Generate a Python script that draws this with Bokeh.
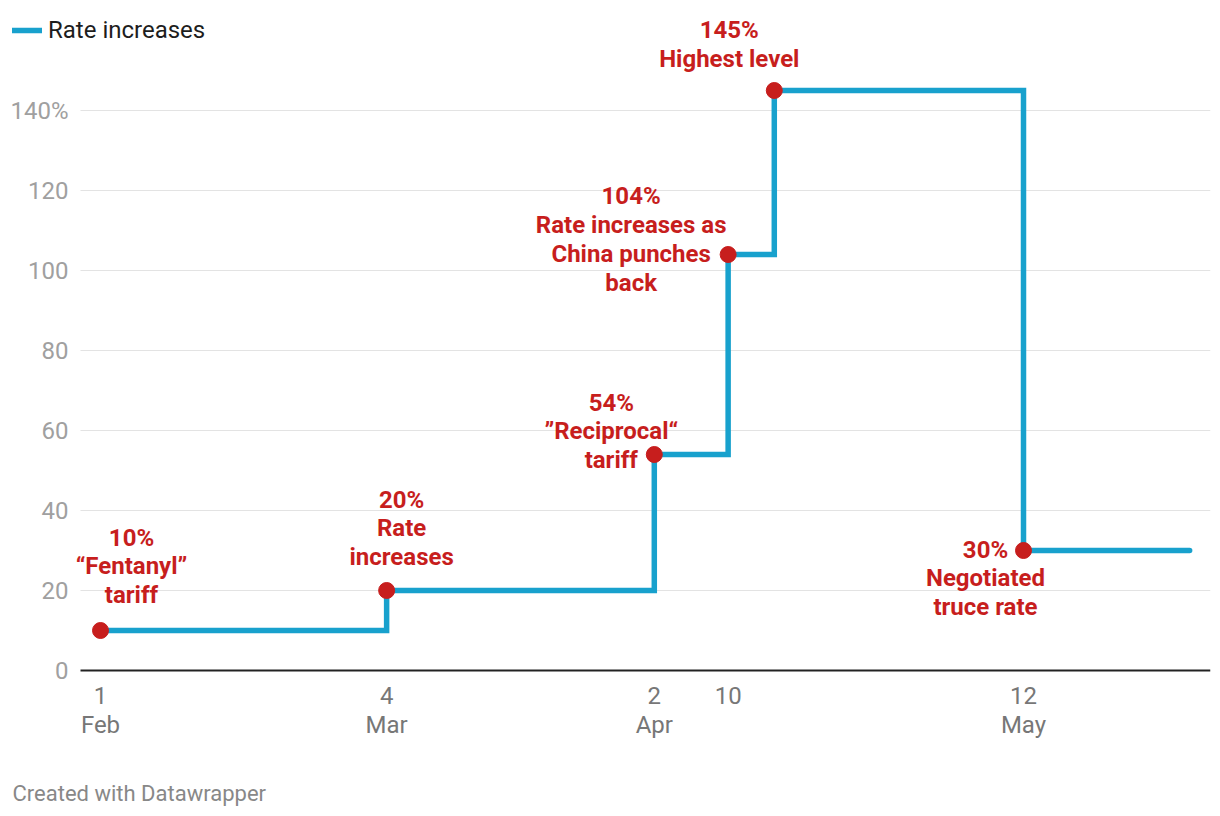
import pandas as pd
from bokeh.plotting import figure
from bokeh.models import (Range1d, FixedTicker, CustomJSTickFormatter, DatetimeAxis, LinearAxis,
                          Legend, LegendItem, Title, ColumnDataSource, Grid)
from bokeh.core.properties import value
from bokeh.embed import file_html
from bokeh.resources import INLINE

# ---------------- data ----------------
dates = ["2025-02-01", "2025-03-04", "2025-04-02", "2025-04-10", "2025-04-15", "2025-05-12", "2025-05-30"]
rates = [10, 20, 54, 104, 145, 30, 30]

event_dates = ["2025-02-01", "2025-03-04", "2025-04-02", "2025-04-10", "2025-04-15", "2025-05-12"]
event_rates = [10, 20, 54, 104, 145, 30]
event_labels = [
    "10%\n\u201cFentanyl\u201d\ntariff",
    "20%\nRate\nincreases",
    "54%\n\u201dReciprocal\u201c\ntariff",
    "104%\nRate increases as\nChina punches\nback",
    "145%\nHighest level",
    "30%\nNegotiated\ntruce rate",
]

tick_dates = ["2025-02-01", "2025-03-04", "2025-04-02", "2025-04-10", "2025-05-12"]
tick_labels = ["1\nFeb", "4\nMar", "2\nApr", "10", "12\nMay"]

y_ticks = [0, 20, 40, 60, 80, 100, 120, 140]
y_tick_labels = ["0", "20", "40", "60", "80", "100", "120", "140%"]

series_name = "Rate increases"
credit = "Created with Datawrapper"

# ---------------- layout & styles ----------------
BLUE = "#18a1cd"
RED = "#c71e1d"
FONT = "Roboto"
label_x_offsets = [31, 15, -43, -97, -45, -38]
label_y_offsets = [-64, -62, -23, -15, -46, 28]

PX_PER_DAY = 9.23
ORIGIN = pd.Timestamp("2025-02-01")
X_START = ORIGIN - pd.Timedelta(days=88 / PX_PER_DAY)                              # frame left edge
GRID_START = ORIGIN - pd.Timedelta(days=20 / PX_PER_DAY)                           # where gridlines begin
X_END = pd.Timestamp("2025-05-12") + pd.Timedelta(days=187 / PX_PER_DAY)           # frame right edge

JS = "const i = tvals.indexOf(tick); return i >= 0 ? tlabels[i] : '';"

def to_ms(ds):
    return [float(pd.Timestamp(d).value // 10**6) for d in ds]

W, H = 1216, 816
p = figure(width=W, height=H, x_axis_type="datetime",
           x_range=Range1d(X_START, X_END), y_range=Range1d(-1, 165),
           x_axis_location=None, y_axis_location=None,
           output_backend="svg", toolbar_location=None,
           min_border_left=12, min_border_right=W - 1210, min_border_top=10, min_border_bottom=H - 674)
p.outline_line_color = None
p.background_fill_color = "white"
p.border_fill_color = "white"
p.center = [r for r in p.center if not isinstance(r, Grid)]

# y axis (labels pulled to the right of the panel edge)
yaxis = LinearAxis(ticker=FixedTicker(ticks=y_ticks),
                   formatter=CustomJSTickFormatter(args=dict(tvals=y_ticks, tlabels=y_tick_labels), code=JS),
                   axis_line_color=None, major_tick_line_color=None, minor_tick_line_color=None,
                   major_tick_out=0, major_tick_in=0,
                   major_label_text_color="#a0a0a0", major_label_text_font=FONT,
                   major_label_text_font_size="24px", major_label_standoff=-56)
p.add_layout(yaxis, "left")

# x axis (a blank axis label only reserves space above the credit line)
tick_ms = to_ms(tick_dates)
xaxis = DatetimeAxis(ticker=FixedTicker(ticks=tick_ms),
                     formatter=CustomJSTickFormatter(args=dict(tvals=tick_ms, tlabels=tick_labels), code=JS),
                     axis_line_color=None,
                     major_tick_line_color=None, minor_tick_line_color=None,
                     major_tick_out=0, major_tick_in=0,
                     major_label_text_color="#777777", major_label_text_font=FONT,
                     major_label_text_font_size="24px", major_label_text_line_height=1.05,
                     major_label_standoff=7,
                     axis_label=" ", axis_label_text_font_size="12px", axis_label_standoff=15)
p.add_layout(xaxis, "below")

# gridlines and baseline
gsrc = ColumnDataSource(dict(y=y_ticks[1:]))
p.segment(x0=GRID_START, x1=X_END, y0="y", y1="y", source=gsrc, line_color="#e3e3e3", line_width=1)
p.segment(x0=[GRID_START], x1=[X_END], y0=[y_ticks[0]], y1=[y_ticks[0]], line_color="#222222", line_width=2)

# step line
src = ColumnDataSource(dict(x=pd.to_datetime(dates), y=rates))
line = p.step(x="x", y="y", source=src, mode="after", line_color=BLUE, line_width=5.5,
              line_cap="round", line_join="miter")

# event dots and labels
esrc = ColumnDataSource(dict(x=pd.to_datetime(event_dates), y=event_rates, text=event_labels,
                             xo=label_x_offsets, yo=label_y_offsets))
p.scatter(x="x", y="y", source=esrc, size=16, fill_color=RED, line_color=RED)
p.text(x="x", y="y", text="text", source=esrc, x_offset="xo", y_offset="yo",
       text_align="center", text_baseline="middle", text_font=value(FONT), text_font_style="bold",
       text_font_size="24px", text_color=RED, text_line_height=1.03)

# legend (top-left corner of the frame)
legend = Legend(items=[LegendItem(label=series_name, renderers=[line])], location=(0, 630),
                border_line_color=None, background_fill_alpha=0, padding=0, margin=0, spacing=0,
                glyph_width=30, glyph_height=22, label_standoff=6, label_height=22,
                label_text_font=FONT, label_text_font_size="24px", label_text_color="#1d1d1d",
                label_text_baseline="middle")
p.add_layout(legend, "center")

# credit
p.add_layout(Title(text=credit, align="left", offset=0, standoff=10, text_font=FONT,
                   text_font_style="normal", text_font_size="22px", text_color="#888888"), "below")

open("out.html", "w").write(file_html(p, INLINE))
